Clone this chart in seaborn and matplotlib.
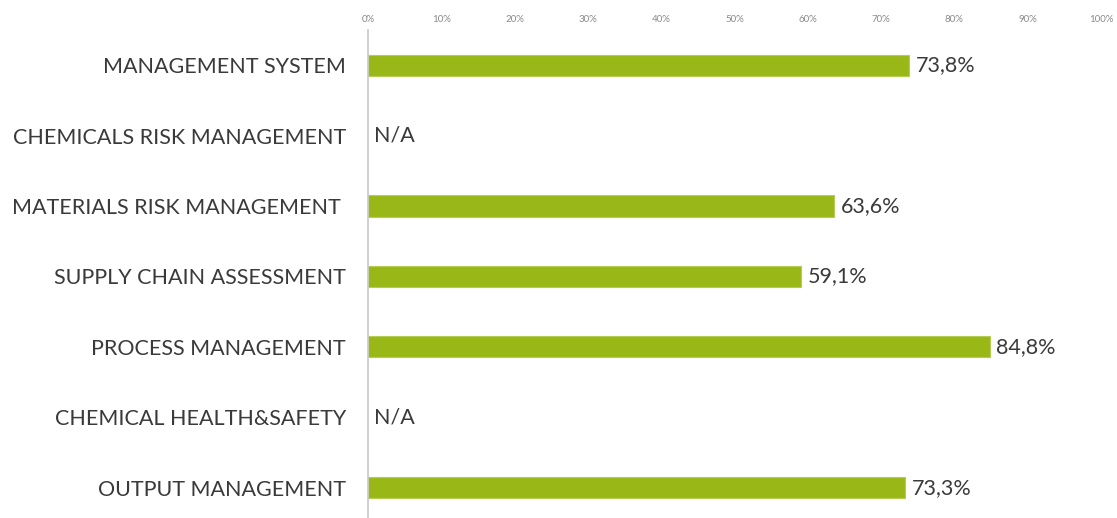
import numpy as np
import pandas as pd
import matplotlib
matplotlib.use("Agg")
import matplotlib.pyplot as plt
import seaborn as sns

categories = [
    "MANAGEMENT SYSTEM",
    "CHEMICALS RISK MANAGEMENT",
    "MATERIALS RISK MANAGEMENT ",
    "SUPPLY CHAIN ASSESSMENT",
    "PROCESS MANAGEMENT",
    "CHEMICAL HEALTH&SAFETY",
    "OUTPUT MANAGEMENT",
]
values = [73.8, np.nan, 63.6, 59.1, 84.8, np.nan, 73.3]
ticks = list(range(0, 101, 10))

df = pd.DataFrame({"cat": categories, "val": values})

sns.set_theme(style="white")
plt.rcParams["font.family"] = ["Lato", "DejaVu Sans"]

fig = plt.figure(figsize=(11.17, 5.18), dpi=100)
ax = fig.add_axes([368 / 1117, 0, (1101 - 368) / 1117, 1 - 30 / 518])

sns.barplot(data=df, y="cat", x="val", order=categories, orient="h",
            color="#99b817", saturation=1, width=0.3,
            edgecolor="#b5cc55", linewidth=0.8, ax=ax)

ax.set_xlim(0, 100)
ax.set_ylim(6.43, -0.5)
ax.xaxis.tick_top()
ax.set_xticks(ticks)
ax.set_xticklabels([f"{t}%" for t in ticks], fontsize=7, color="#8a8a8a")
ax.tick_params(axis="x", length=0, pad=4)
ax.tick_params(axis="y", length=0, pad=16, labelsize=15.5, labelcolor="#3a3a3a")
ax.set_xlabel("")
ax.set_ylabel("")
for s in ["top", "right", "bottom"]:
    ax.spines[s].set_visible(False)
ax.spines["left"].set_color("#c8c8c8")
ax.spines["left"].set_linewidth(1.2)

for i, v in enumerate(values):
    if np.isnan(v):
        txt, xpos = "N/A", 0.8
    else:
        txt, xpos = f"{v:.1f}".replace(".", ",") + "%", v + 0.9
    ax.text(xpos, i, txt, va="center", ha="left", fontsize=15.5, color="#3a3a3a")

fig.savefig("out.png", dpi=100)
